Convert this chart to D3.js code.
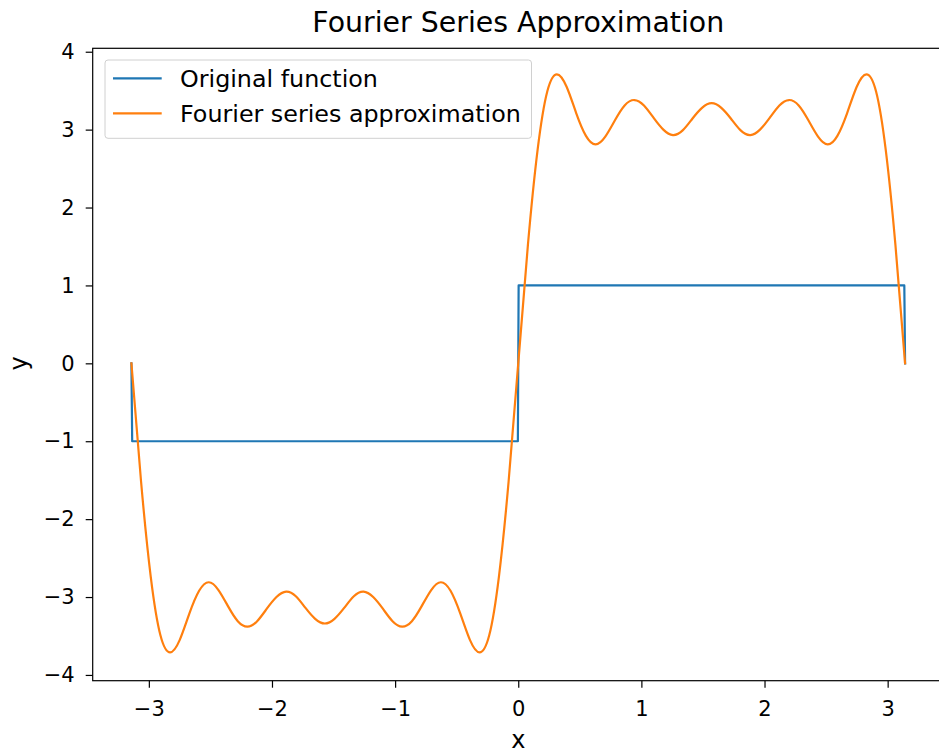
<!DOCTYPE html>
<html>
<head>
<meta charset="utf-8">
<script src="https://cdn.jsdelivr.net/npm/d3@7"></script>
<style>
  html, body { margin: 0; padding: 0; background: #fff; }
  svg { display: block; font-family: "DejaVu Sans", sans-serif; }
</style>
</head>
<body>
<svg id="chart" width="939" height="754"></svg>
<script>
// ---- data ----
const originalX = [-3.1416, -3.1353, -0.0031, 0.0031, 3.1353, 3.1416];
const originalY = [0, -1, -1, 1, 1, 0];

const approxX = [
  -3.1416, -3.0631, -2.9845, -2.9060, -2.8274, -2.7489, -2.6704, -2.5918, -2.5133, -2.4347,
  -2.3562, -2.2777, -2.1991, -2.1206, -2.0420, -1.9635, -1.8850, -1.8064, -1.7279, -1.6493,
  -1.5708, -1.4923, -1.4137, -1.3352, -1.2566, -1.1781, -1.0996, -1.0210, -0.9425, -0.8639,
  -0.7854, -0.7069, -0.6283, -0.5498, -0.4712, -0.3927, -0.3142, -0.2356, -0.1571, -0.0785,
  0,
  0.0785, 0.1571, 0.2356, 0.3142, 0.3927, 0.4712, 0.5498, 0.6283, 0.7069, 0.7854,
  0.8639, 0.9425, 1.0210, 1.0996, 1.1781, 1.2566, 1.3352, 1.4137, 1.4923, 1.5708,
  1.6493, 1.7279, 1.8064, 1.8850, 1.9635, 2.0420, 2.1206, 2.1991, 2.2777, 2.3562,
  2.4347, 2.5133, 2.5918, 2.6704, 2.7489, 2.8274, 2.9060, 2.9845, 3.0631, 3.1416
];
const approxY = [
  0, -1.52, -2.74, -3.49, -3.71, -3.55, -3.21, -2.92, -2.81, -2.91,
  -3.12, -3.31, -3.38, -3.31, -3.15, -3.00, -2.93, -2.99, -3.14, -3.28,
  -3.34, -3.28, -3.14, -2.99, -2.93, -3.00, -3.15, -3.31, -3.38, -3.31,
  -3.12, -2.91, -2.81, -2.92, -3.21, -3.55, -3.71, -3.49, -2.74, -1.52,
  0,
  1.52, 2.74, 3.49, 3.71, 3.55, 3.21, 2.92, 2.81, 2.91, 3.12,
  3.31, 3.38, 3.31, 3.15, 3.00, 2.93, 2.99, 3.14, 3.28, 3.34,
  3.28, 3.14, 2.99, 2.93, 3.00, 3.15, 3.31, 3.38, 3.31, 3.12,
  2.91, 2.81, 2.92, 3.21, 3.55, 3.71, 3.49, 2.74, 1.52, 0
];

const xTicks = [-3, -2, -1, 0, 1, 2, 3];
const yTicks = [-4, -3, -2, -1, 0, 1, 2, 3, 4];

const seriesNames = ["Original function", "Fourier series approximation"];
const seriesColors = ["#1f77b4", "#ff7f0e"];

const titleText = "Fourier Series Approximation";
const xLabel = "x";
const yLabel = "y";

// ---- layout ----
const plot = { left: 92.7, right: 943.8, top: 48.3, bottom: 680.7 };
const svg = d3.select("#chart");

const x = d3.scaleLinear().domain([-3.456, 3.456]).range([plot.left, plot.right]);
const y = d3.scaleLinear().domain([-4.074, 4.044]).range([plot.bottom, plot.top]);

const fmt = v => (v < 0 ? "\u2212" + Math.abs(v) : String(v));

// clip
svg.append("defs").append("clipPath").attr("id", "clip")
  .append("rect")
  .attr("x", plot.left).attr("y", plot.top)
  .attr("width", plot.right - plot.left).attr("height", plot.bottom - plot.top);

// lines
const original = originalX.map((v, i) => [v, originalY[i]]);
const approx = approxX.map((v, i) => [v, approxY[i]]);

const lineStep = d3.line().x(d => x(d[0])).y(d => y(d[1]));
const lineSmooth = d3.line().x(d => x(d[0])).y(d => y(d[1])).curve(d3.curveNatural);

const g = svg.append("g").attr("clip-path", "url(#clip)");
g.append("path").datum(original)
  .attr("d", lineStep)
  .attr("fill", "none").attr("stroke", seriesColors[0])
  .attr("stroke-width", 2.2).attr("stroke-linejoin", "round").attr("stroke-linecap", "square");
g.append("path").datum(approx)
  .attr("d", lineSmooth)
  .attr("fill", "none").attr("stroke", seriesColors[1])
  .attr("stroke-width", 2.2).attr("stroke-linejoin", "round").attr("stroke-linecap", "square");

// axes
const xAxis = d3.axisBottom(x).tickValues(xTicks).tickFormat(fmt).tickSize(7).tickPadding(13);
const yAxis = d3.axisLeft(y).tickValues(yTicks).tickFormat(fmt).tickSize(7).tickPadding(11);

const gx = svg.append("g").attr("transform", `translate(0,${plot.bottom})`).call(xAxis);
const gy = svg.append("g").attr("transform", `translate(${plot.left},0)`).call(yAxis);

[gx, gy].forEach(a => {
  a.select(".domain").remove();
  a.selectAll(".tick line").attr("stroke", "#000").attr("stroke-width", 1.2);
  a.selectAll(".tick text").attr("fill", "#000")
    .style("font-family", "'DejaVu Sans', sans-serif").style("font-size", "21px");
});

// spines
svg.append("rect")
  .attr("x", plot.left).attr("y", plot.top)
  .attr("width", plot.right - plot.left).attr("height", plot.bottom - plot.top)
  .attr("fill", "none").attr("stroke", "#000").attr("stroke-width", 1.2);

// title & labels
svg.append("text").attr("x", (plot.left + plot.right) / 2).attr("y", 31.5)
  .attr("text-anchor", "middle").style("font-size", "28.4px").attr("fill", "#000")
  .text(titleText);
svg.append("text").attr("x", x(0)).attr("y", 748)
  .attr("text-anchor", "middle").style("font-size", "24px").attr("fill", "#000")
  .text(xLabel);
svg.append("text").attr("transform", `translate(27,${y(0)}) rotate(-90)`)
  .attr("text-anchor", "middle").style("font-size", "24px").attr("fill", "#000")
  .text(yLabel);

// legend
const leg = svg.append("g");
leg.append("rect").attr("x", 105).attr("y", 60).attr("width", 426.5).attr("height", 78.3)
  .attr("rx", 3).attr("fill", "#fff").attr("fill-opacity", 0.8)
  .attr("stroke", "#d0d0d0").attr("stroke-width", 1);
const legY = [78.3, 113.3];
seriesNames.forEach((name, i) => {
  leg.append("line").attr("x1", 113).attr("x2", 161.7).attr("y1", legY[i]).attr("y2", legY[i])
    .attr("stroke", seriesColors[i]).attr("stroke-width", 2.2);
  leg.append("text").attr("x", 180).attr("y", legY[i]).attr("dy", "0.35em")
    .style("font-size", "23.8px").attr("fill", "#000").text(name);
});
</script>
</body>
</html>
